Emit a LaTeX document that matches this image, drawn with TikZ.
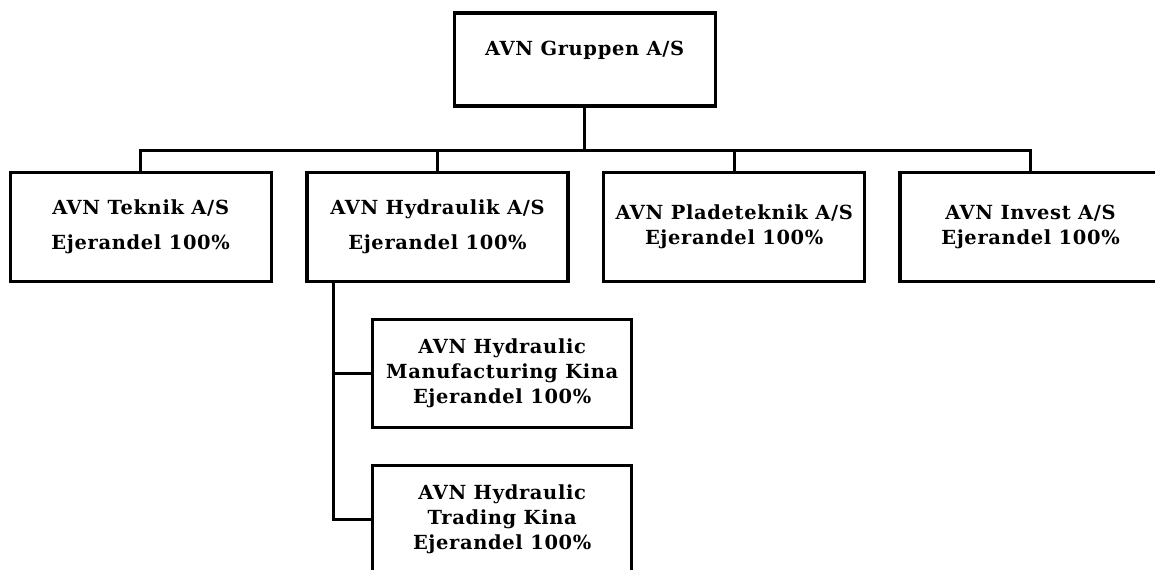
\documentclass[tikz,border=0pt]{standalone}
\usepackage{fontspec}
\setmainfont{DejaVu Serif}[LetterSpace=3.5]
\begin{document}
\begin{tikzpicture}[x=1bp,y=-1bp,
  box/.style={draw=black,line width=3.2bp,rectangle,inner sep=0pt,
    minimum width=261bp,minimum height=109bp,align=center,
    font=\bfseries\fontsize{19.5}{35}\selectfont},
  boxtight/.style={box,font=\bfseries\fontsize{19.5}{25}\selectfont},
  link/.style={draw=black,line width=3bp},
  txt/.style={inner sep=0pt,font=\bfseries\fontsize{19.5}{25}\selectfont}]
\useasboundingbox (0,0) rectangle (1155,570);
\clip (0,0) rectangle (1155,570);
\node[box,minimum height=93bp] (top) at (584.7,59.5) {};
\node[txt] (toptext) at (584.7,50) {AVN Gruppen A/S};
\node[box] (teknik) at (140.7,227) {AVN Teknik A/S\\Ejerandel 100\%};
\node[box] (hydraulik) at (437.5,227) {AVN Hydraulik A/S\\Ejerandel 100\%};
\node[boxtight] (plade) at (734.2,227) {AVN Pladeteknik A/S\\Ejerandel 100\%};
\node[boxtight] (invest) at (1030.5,227) {AVN Invest A/S\\Ejerandel 100\%};
\node[boxtight,minimum width=259bp,minimum height=108.4bp] (manuf) at (502.2,373.5)
  {AVN Hydraulic\\Manufacturing Kina\\Ejerandel 100\%};
\node[boxtight,minimum width=259bp,minimum height=108.4bp] (trading) at (502.2,519.5)
  {AVN Hydraulic\\Trading Kina\\Ejerandel 100\%};
\coordinate (bus) at (584.7,151);
\coordinate (hb) at (333.3,280);
\draw[link] (top.south) -- (bus);
\draw[link] (teknik.north) |- (bus) -| (invest.north);
\draw[link] (hydraulik.north) -- (hydraulik.north |- bus);
\draw[link] (plade.north) -- (plade.north |- bus);
\draw[link] (hb) |- (trading.west);
\draw[link] (manuf.west) -- (manuf.west -| hb);
\end{tikzpicture}
\end{document}
